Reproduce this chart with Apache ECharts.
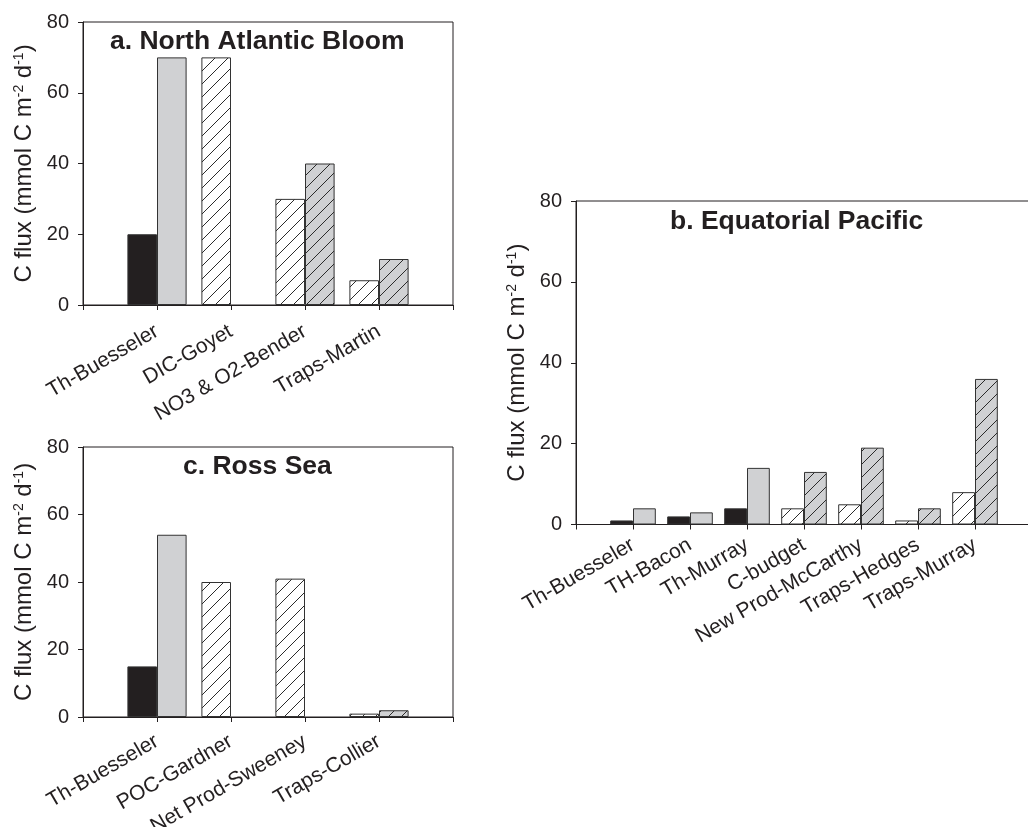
<!DOCTYPE html>
<html>
<head>
<meta charset="utf-8">
<script src="https://cdn.jsdelivr.net/npm/echarts@6/dist/echarts.min.js"></script>
<style>
html,body{margin:0;padding:0;background:#fff;}
#c{width:1028px;height:827px;}
</style>
</head>
<body>
<div id="c"></div>
<script>
// ---- Data ----
// Panel a: North Atlantic Bloom
const catsA = ['Th-Buesseler', 'DIC-Goyet', 'NO3 & O2-Bender', 'Traps-Martin'];
const kindA = ['th', 'other', 'other', 'other'];
const leftA = [20, 70, 30, 7];
const rightA = [70, null, 40, 13];

// Panel b: Equatorial Pacific
const catsB = ['Th-Buesseler', 'TH-Bacon', 'Th-Murray', 'C-budget', 'New Prod-McCarthy', 'Traps-Hedges', 'Traps-Murray'];
const kindB = ['th', 'th', 'th', 'other', 'other', 'other', 'other'];
const leftB = [1, 2, 4, 4, 5, 1, 8];
const rightB = [4, 3, 14, 13, 19, 4, 36];

// Panel c: Ross Sea
const catsC = ['Th-Buesseler', 'POC-Gardner', 'Net Prod-Sweeney', 'Traps-Collier'];
const kindC = ['th', 'other', 'other', 'other'];
const leftC = [15, 40, 41, 1];
const rightC = [54, null, null, 2];

const yTicks = [0, 20, 40, 60, 80];
const titles = ['a. North Atlantic Bloom', 'b. Equatorial Pacific', 'c. Ross Sea'];
const yName = 'C flux (mmol C m{sup|-2} d{sup|-1})';

// ---- Styles ----
const INK = '#231f20';
const GRAY = '#d0d1d3';
const FONT = "'Liberation Sans', Arial, sans-serif";

function hatch(bg) {
  const s = 13;
  const c = document.createElement('canvas');
  c.width = s; c.height = s;
  const g = c.getContext('2d');
  g.fillStyle = bg; g.fillRect(0, 0, s, s);
  g.strokeStyle = '#2b2b2b'; g.lineWidth = 1;
  g.beginPath();
  for (const o of [-s, 0, s]) { g.moveTo(o - 1, s + 1); g.lineTo(o + s + 1, -1); }
  g.stroke();
  return c;
}
const border = { borderColor: '#333', borderWidth: 1 };
const styleBlack = Object.assign({ color: INK }, border);
const styleGray = Object.assign({ color: GRAY }, border);
const styleWhiteHatch = Object.assign({ color: { image: hatch('#ffffff'), repeat: 'repeat' } }, border);
const styleGrayHatch = Object.assign({ color: { image: hatch(GRAY), repeat: 'repeat' } }, border);

function items(vals, kinds, side) {
  const out = vals.map((v, i) => {
    if (v == null) return '-';
    const st = kinds[i] === 'th'
      ? (side === 'L' ? styleBlack : styleGray)
      : (side === 'L' ? styleWhiteHatch : styleGrayHatch);
    return { value: v, itemStyle: st };
  });
  return ['-'].concat(out, ['-']);
}
function padCats(c) { return [''].concat(c, ['']); }

const grids = [
  { left: 83, top: 22, width: 370, height: 283 },
  { left: 576, top: 201, width: 456, height: 323.5 },
  { left: 83, top: 447, width: 370, height: 270 }
];
const allCats = [catsA, catsB, catsC];
const allKinds = [kindA, kindB, kindC];
const allL = [leftA, leftB, leftC];
const allR = [rightA, rightB, rightC];
const titlePos = [
  { left: 110, top: 28.5 },
  { left: 670, top: 208 },
  { left: 183, top: 453 }
];
const labelMargin = [25, 19, 23];

const option = {
  animation: false,
  backgroundColor: '#fff',
  textStyle: { fontFamily: FONT, color: INK },
  title: titles.map((t, i) => ({
    text: t, left: titlePos[i].left, top: titlePos[i].top, padding: 0,
    textStyle: { fontFamily: FONT, fontSize: 26.5, fontWeight: 'bold', color: INK }
  })),
  grid: grids.map(g => Object.assign({
    show: true, borderColor: INK, borderWidth: 1, backgroundColor: 'transparent',
    containLabel: false, outerBoundsMode: 'none'
  }, g)),
  xAxis: allCats.map((c, i) => ({
    type: 'category', gridIndex: i, data: padCats(c), boundaryGap: false,
    axisLine: { lineStyle: { color: INK, width: 1 } },
    axisTick: { show: true, interval: 0, length: 5, lineStyle: { color: INK } },
    axisLabel: { interval: 0, rotate: 30, margin: labelMargin[i], fontSize: 21, color: INK, fontFamily: FONT, hideOverlap: false },
    splitLine: { show: false }
  })),
  yAxis: allCats.map((c, i) => ({
    type: 'value', gridIndex: i, min: yTicks[0], max: yTicks[yTicks.length - 1], interval: yTicks[1] - yTicks[0],
    axisLine: { show: true, lineStyle: { color: INK, width: 1 } },
    axisTick: { show: true, length: 5, lineStyle: { color: INK } },
    axisLabel: { fontSize: 20, color: INK, margin: 14, fontFamily: FONT },
    splitLine: { show: false },
    name: yName, nameLocation: 'middle', nameGap: 47,
    nameTextStyle: {
      fontSize: 24, color: INK, fontFamily: FONT,
      rich: { sup: { fontSize: 14, verticalAlign: 'top', color: INK, fontFamily: FONT, padding: [0, 0, 10, 0] } }
    }
  })),
  series: []
};
for (let i = 0; i < 3; i++) {
  option.series.push({
    type: 'bar', xAxisIndex: i, yAxisIndex: i, barWidth: '40%', barGap: '0%',
    data: items(allL[i], allKinds[i], 'L')
  });
  option.series.push({
    type: 'bar', xAxisIndex: i, yAxisIndex: i, barWidth: '40%', barGap: '0%',
    data: items(allR[i], allKinds[i], 'R')
  });
}
const chart = echarts.init(document.getElementById('c'), null, { renderer: 'canvas' });
chart.setOption(option);
</script>
</body>
</html>
